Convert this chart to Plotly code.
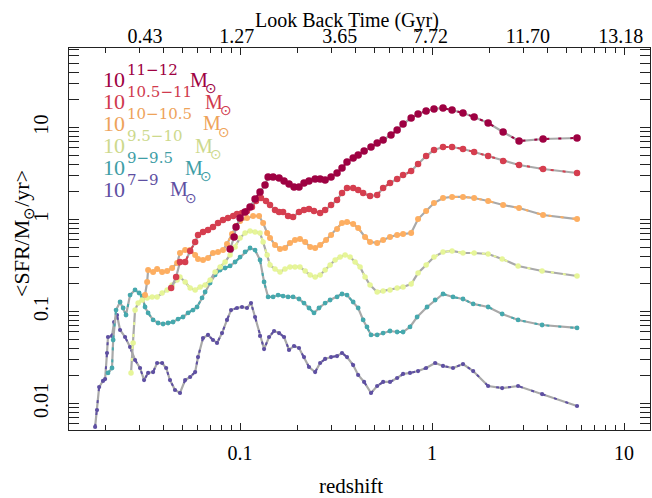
import plotly.graph_objects as go

# ---------------- data (log10 redshift, log10 <SFR/Msun/yr>) ----------------
labels = ["11−12", "10.5−11", "10−10.5", "9.5−10", "9−9.5", "7−9"]
colors = ["#9e0142", "#d53e4f", "#fdae61", "#e6f598", "#45a8ad", "#5e4fa2"]
text_colors = ["#9e0142", "#d03a4e", "#eea35a", "#cdd98c", "#3f9ea6", "#5e4fa2"]
marker_sizes = [7.5, 6.5, 6, 5.5, 4.8, 4.2]

lz_11_12 = [-1.052,-1.031,-1.021,-1.000,-0.974,-0.948,-0.922,-0.896,-0.870,-0.854,
            -0.828,-0.797,-0.771,-0.745,-0.719,-0.693,-0.667,-0.641,-0.609,-0.583,
            -0.557,-0.526,-0.495,-0.469,-0.443,-0.411,-0.385,-0.354,-0.318,-0.286,
            -0.255,-0.214,-0.182,-0.151,-0.109,-0.073,-0.031,0.010,0.057,0.104,
            0.161,0.219,0.292,0.370,0.453,0.578,0.755]
ls_11_12 = [-0.321,-0.190,-0.082,0.016,0.082,0.136,0.223,0.299,0.375,0.462,
            0.462,0.451,0.418,0.386,0.353,0.353,0.397,0.418,0.440,0.440,
            0.429,0.462,0.505,0.560,0.625,0.668,0.701,0.745,0.788,0.832,
            0.864,0.918,0.973,1.038,1.103,1.147,1.179,1.201,1.212,1.190,
            1.158,1.114,1.049,0.951,0.853,0.875,0.886]

lz_105_11 = [-1.359,-1.333,-1.313,-1.286,-1.260,-1.234,-1.219,-1.193,-1.167,-1.141,
             -1.115,-1.089,-1.063,-1.036,-1.016,-0.990,-0.964,-0.938,-0.917,-0.891,
             -0.865,-0.844,-0.818,-0.797,-0.776,-0.750,-0.724,-0.693,-0.667,-0.641,
             -0.615,-0.583,-0.557,-0.526,-0.495,-0.469,-0.443,-0.411,-0.385,-0.359,
             -0.323,-0.286,-0.255,-0.219,-0.182,-0.151,-0.109,-0.073,-0.031,0.010,
             0.057,0.104,0.161,0.219,0.292,0.370,0.453,0.578,0.755]
ls_105_11 = [-0.745,-0.625,-0.462,-0.462,-0.342,-0.245,-0.168,-0.136,-0.114,-0.082,
             -0.038,-0.005,0.016,0.038,0.060,0.071,0.092,0.136,0.201,0.234,
             0.201,0.158,0.103,0.082,0.082,0.038,0.027,0.082,0.103,0.114,
             0.092,0.071,0.103,0.158,0.212,0.288,0.342,0.342,0.321,0.288,
             0.255,0.266,0.342,0.397,0.440,0.484,0.527,0.603,0.690,0.755,
             0.788,0.788,0.766,0.734,0.690,0.636,0.592,0.549,0.505]

lz_10_105 = [-1.495,-1.484,-1.479,-1.453,-1.432,-1.406,-1.380,-1.354,-1.328,-1.313,
             -1.286,-1.260,-1.234,-1.219,-1.193,-1.167,-1.141,-1.115,-1.089,-1.068,
             -1.042,-1.021,-1.000,-0.964,-0.932,-0.901,-0.880,-0.859,-0.844,-0.818,
             -0.792,-0.766,-0.740,-0.714,-0.688,-0.661,-0.635,-0.609,-0.583,-0.552,
             -0.526,-0.495,-0.469,-0.443,-0.411,-0.385,-0.349,-0.323,-0.286,-0.255,
             -0.219,-0.182,-0.151,-0.109,-0.073,-0.031,0.010,0.057,0.104,0.161,
             0.219,0.292,0.370,0.453,0.578,0.755]
ls_10_105 = [-0.821,-0.679,-0.549,-0.571,-0.538,-0.571,-0.560,-0.527,-0.473,-0.364,
             -0.332,-0.332,-0.386,-0.429,-0.440,-0.418,-0.364,-0.353,-0.332,-0.266,
             -0.158,-0.071,-0.016,0.016,0.038,0.038,-0.038,-0.147,-0.201,-0.277,
             -0.321,-0.310,-0.255,-0.223,-0.212,-0.245,-0.299,-0.310,-0.277,-0.223,
             -0.168,-0.103,-0.038,-0.027,-0.049,-0.092,-0.190,-0.245,-0.255,-0.223,
             -0.190,-0.168,-0.158,-0.147,0.005,0.092,0.179,0.234,0.245,0.245,
             0.234,0.201,0.158,0.125,0.049,0.005]

lz_95_10 = [-1.568,-1.557,-1.547,-1.531,-1.510,-1.484,-1.458,-1.432,-1.406,-1.380,
            -1.354,-1.328,-1.313,-1.286,-1.260,-1.234,-1.208,-1.182,-1.156,-1.130,
            -1.104,-1.078,-1.052,-1.026,-1.000,-0.974,-0.948,-0.922,-0.896,-0.880,
            -0.859,-0.844,-0.818,-0.792,-0.766,-0.740,-0.714,-0.688,-0.661,-0.635,
            -0.609,-0.583,-0.557,-0.531,-0.505,-0.479,-0.453,-0.427,-0.401,-0.375,
            -0.349,-0.323,-0.286,-0.255,-0.219,-0.182,-0.151,-0.109,-0.073,-0.031,
            0.010,0.057,0.104,0.161,0.219,0.292,0.365,0.448,0.573,0.755]
ls_95_10 = [-1.668,-1.342,-0.984,-0.908,-0.875,-0.853,-0.842,-0.842,-0.799,-0.766,
            -0.712,-0.658,-0.625,-0.679,-0.745,-0.766,-0.734,-0.712,-0.658,-0.571,
            -0.516,-0.462,-0.386,-0.299,-0.201,-0.147,-0.125,-0.136,-0.147,-0.245,
            -0.386,-0.495,-0.538,-0.571,-0.538,-0.516,-0.516,-0.516,-0.560,-0.603,
            -0.625,-0.603,-0.549,-0.495,-0.440,-0.408,-0.386,-0.408,-0.462,-0.516,
            -0.625,-0.712,-0.788,-0.777,-0.766,-0.745,-0.734,-0.701,-0.582,-0.495,
            -0.408,-0.353,-0.342,-0.364,-0.364,-0.375,-0.429,-0.505,-0.560,-0.614]

lz_9_95 = [-1.688,-1.667,-1.661,-1.646,-1.625,-1.609,-1.594,-1.573,-1.547,-1.526,
           -1.510,-1.495,-1.479,-1.453,-1.427,-1.401,-1.375,-1.349,-1.323,-1.297,
           -1.271,-1.245,-1.224,-1.198,-1.182,-1.156,-1.130,-1.104,-1.078,-1.052,
           -1.026,-1.000,-0.974,-0.948,-0.922,-0.896,-0.875,-0.854,-0.828,-0.802,
           -0.776,-0.750,-0.724,-0.693,-0.667,-0.641,-0.615,-0.589,-0.557,-0.531,
           -0.495,-0.469,-0.443,-0.411,-0.385,-0.359,-0.339,-0.318,-0.286,-0.255,
           -0.219,-0.182,-0.151,-0.115,-0.078,-0.026,0.016,0.057,0.109,0.161,
           0.214,0.292,0.365,0.448,0.573,0.755]
ls_9_95 = [-1.668,-1.614,-1.310,-0.984,-0.897,-0.962,-1.038,-0.821,-0.766,-0.799,
           -0.832,-0.951,-1.016,-1.092,-1.125,-1.136,-1.125,-1.114,-1.082,-1.060,
           -1.016,-0.984,-0.951,-0.853,-0.788,-0.690,-0.603,-0.549,-0.527,-0.505,
           -0.462,-0.408,-0.353,-0.310,-0.332,-0.440,-0.679,-0.842,-0.842,-0.821,
           -0.832,-0.842,-0.842,-0.864,-0.908,-0.962,-1.016,-0.962,-0.908,-0.875,
           -0.842,-0.810,-0.821,-0.897,-0.962,-1.092,-1.168,-1.255,-1.255,-1.234,
           -1.212,-1.223,-1.223,-1.168,-1.060,-0.951,-0.875,-0.810,-0.842,-0.864,
           -0.918,-0.951,-1.027,-1.092,-1.147,-1.179]

lz_7_9 = [-1.755,-1.745,-1.734,-1.714,-1.703,-1.693,-1.688,-1.667,-1.656,-1.641,
          -1.625,-1.599,-1.573,-1.547,-1.521,-1.500,-1.479,-1.453,-1.432,-1.406,
          -1.385,-1.365,-1.339,-1.313,-1.286,-1.260,-1.234,-1.219,-1.193,-1.167,
          -1.141,-1.120,-1.094,-1.068,-1.047,-1.016,-0.990,-0.964,-0.943,-0.922,
          -0.896,-0.875,-0.849,-0.823,-0.797,-0.771,-0.745,-0.719,-0.693,-0.667,
          -0.641,-0.609,-0.583,-0.557,-0.526,-0.495,-0.469,-0.443,-0.411,-0.385,
          -0.354,-0.318,-0.286,-0.255,-0.219,-0.182,-0.151,-0.115,-0.073,-0.031,
          0.016,0.057,0.109,0.161,0.214,0.292,0.365,0.448,0.573,0.755]
ls_7_9 = [-2.255,-2.071,-1.821,-1.755,-1.734,-1.451,-1.277,-1.266,-1.114,-1.038,
          -1.201,-1.277,-1.386,-1.527,-1.614,-1.745,-1.668,-1.658,-1.560,-1.560,
          -1.614,-1.745,-1.853,-1.886,-1.745,-1.712,-1.658,-1.495,-1.288,-1.255,
          -1.310,-1.342,-1.234,-1.092,-0.984,-0.962,-0.951,-0.962,-0.908,-1.060,
          -1.266,-1.408,-1.277,-1.212,-1.234,-1.277,-1.418,-1.375,-1.397,-1.495,
          -1.603,-1.658,-1.560,-1.516,-1.495,-1.484,-1.451,-1.495,-1.582,-1.690,
          -1.766,-1.886,-1.810,-1.766,-1.766,-1.723,-1.679,-1.668,-1.647,-1.614,
          -1.560,-1.592,-1.614,-1.571,-1.647,-1.810,-1.832,-1.810,-1.897,-2.027]

series_lz = [lz_11_12, lz_105_11, lz_10_105, lz_95_10, lz_9_95, lz_7_9]
series_ls = [ls_11_12, ls_105_11, ls_10_105, ls_95_10, ls_9_95, ls_7_9]

# top axis: look-back time labels at redshift positions
top_z = [0.032, 0.096, 0.33, 0.98, 3.15, 9.6]
top_labels = ["0.43", "1.27", "3.65", "7.72", "11.70", "13.18"]

# ---------------- figure ----------------
W, H = 652, 498
L, R, T, B = 69, 2, 48, 68
pw, ph = W - L - R, H - T - B

def px2paper_x(px):
    return (px - L) / pw

def px2paper_y(py):
    return (H - B - py) / ph

fig = go.Figure()
for i in reversed(range(6)):
    xs = [10 ** v for v in series_lz[i]]
    ys = [10 ** v for v in series_ls[i]]
    fig.add_trace(go.Scatter(x=xs, y=ys, mode="lines",
                             line=dict(color="#a9a9a9", width=2.2),
                             showlegend=False, hoverinfo="skip"))
    fig.add_trace(go.Scatter(x=xs, y=ys, mode="lines",
                             line=dict(color=colors[i], width=2, dash="3px,9px"),
                             showlegend=False, hoverinfo="skip"))
    fig.add_trace(go.Scatter(x=xs, y=ys, mode="markers",
                             marker=dict(color=colors[i], size=marker_sizes[i], line=dict(width=0)),
                             showlegend=False, name=labels[i]))

fig.add_trace(go.Scatter(x=top_z, y=[1] * len(top_z), xaxis="x2", mode="markers",
                         marker=dict(opacity=0), showlegend=False, hoverinfo="skip"))

xminor = [k * 10 ** n for n in range(-2, 2) for k in range(2, 10)]
yminor = [k * 10 ** n for n in range(-3, 2) for k in range(2, 10)]

tickfont = dict(family="Liberation Serif", size=20, color="black")
xr = [-1.891, 1.135]
yr = [-2.288, 1.864]

fig.update_layout(
    width=W, height=H,
    margin=dict(l=L, r=R, t=T, b=B),
    paper_bgcolor="white", plot_bgcolor="white",
    xaxis=dict(type="log", range=xr, showgrid=False, zeroline=False,
               showline=True, linecolor="#222", linewidth=1, mirror="allticks",
               ticks="inside", ticklen=7, tickcolor="#222",
               tickmode="array", tickvals=[0.1, 1, 10], ticktext=["0.1", "1", "10"],
               minor=dict(tickmode="array", tickvals=xminor, ticks="inside", ticklen=5, tickcolor="#222"),
               tickfont=tickfont, ticklabelstandoff=5),
    xaxis2=dict(type="log", range=xr, overlaying="x", side="top", showgrid=False,
                zeroline=False, showline=False, ticks="",
                tickmode="array", tickvals=top_z, ticktext=top_labels,
                tickfont=tickfont, ticklabelstandoff=0),
    yaxis=dict(type="log", range=yr, showgrid=False, zeroline=False,
               showline=True, linecolor="#222", linewidth=1, mirror="allticks",
               ticks="inside", ticklen=10, tickcolor="#222",
               tickmode="array", tickvals=[0.01, 0.1, 1, 10], ticktext=["0.01", "0.1", "1", "10"],
               minor=dict(tickmode="array", tickvals=yminor, ticks="inside", ticklen=5, tickcolor="#222"),
               tickangle=-90, tickfont=tickfont, ticklabelstandoff=12),
)

ann = []
ann.append(dict(text="Look Back Time (Gyr)", x=px2paper_x(347), y=px2paper_y(20),
                xref="paper", yref="paper", showarrow=False, xanchor="center", yanchor="middle",
                font=dict(family="Liberation Serif", size=20, color="black")))
ann.append(dict(text="redshift", x=px2paper_x(351), y=px2paper_y(486),
                xref="paper", yref="paper", showarrow=False, xanchor="center", yanchor="middle",
                font=dict(family="Liberation Serif", size=21, color="black")))
ann.append(dict(text="&lt;SFR/M<sub>⊙</sub>/yr&gt;", x=px2paper_x(23), y=px2paper_y(234),
                xref="paper", yref="paper", showarrow=False, xanchor="center", yanchor="middle",
                textangle=-90, font=dict(family="Liberation Serif", size=22, color="black")))

line_y = [79, 101, 123, 145, 167, 189]
m_x = [190, 205, 203, 195, 185, 170]
for i in range(6):
    c = text_colors[i]
    ann.append(dict(text="10", x=px2paper_x(101), y=px2paper_y(line_y[i]), xref="paper", yref="paper",
                    showarrow=False, xanchor="left", yanchor="middle",
                    font=dict(family="Liberation Serif", size=22, color=c)))
    ann.append(dict(text=labels[i], x=px2paper_x(125), y=px2paper_y(line_y[i] - 9), xref="paper", yref="paper",
                    showarrow=False, xanchor="left", yanchor="middle",
                    font=dict(family="DejaVu Serif", size=15, color=c)))
    ann.append(dict(text="M", x=px2paper_x(m_x[i] - 2), y=px2paper_y(line_y[i] + 0.5), xref="paper", yref="paper",
                    showarrow=False, xanchor="left", yanchor="middle",
                    font=dict(family="Liberation Serif", size=20, color=c)))
    ann.append(dict(text="⊙", x=px2paper_x(m_x[i] + 13), y=px2paper_y(line_y[i] + 9), xref="paper", yref="paper",
                    showarrow=False, xanchor="left", yanchor="middle",
                    font=dict(family="DejaVu Sans", size=14, color=c)))
fig.update_layout(annotations=ann)

fig.write_html("out.html")
